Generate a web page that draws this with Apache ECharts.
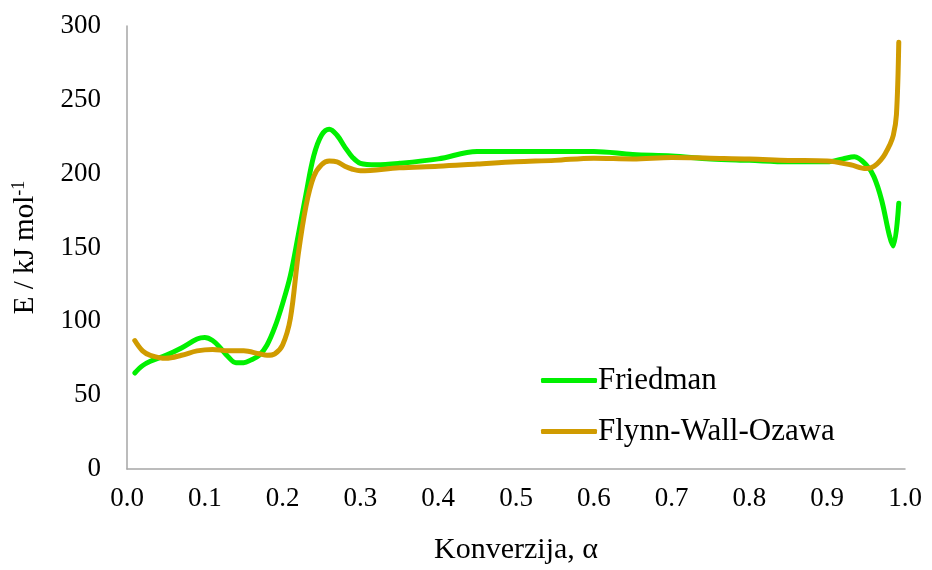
<!DOCTYPE html>
<html>
<head>
<meta charset="utf-8">
<script src="https://cdn.jsdelivr.net/npm/echarts@6/dist/echarts.min.js"></script>
<style>html,body{margin:0;padding:0;background:#fff}#c{width:932px;height:570px}</style>
</head>
<body>
<div id="c"></div>
<script>
const seriesNames = ['Friedman', 'Flynn-Wall-Ozawa'];
const friedmanX = [0.01,0.02,0.03,0.05,0.07,0.09,0.10,0.11,0.12,0.13,0.14,0.15,0.16,0.17,0.18,0.19,0.20,0.21,0.22,0.23,0.24,0.25,0.26,0.27,0.28,0.29,0.30,0.32,0.35,0.40,0.45,0.50,0.55,0.60,0.65,0.70,0.75,0.80,0.85,0.90,0.92,0.935,0.95,0.96,0.97,0.98,0.985,0.992];
const friedmanY = [65,70,73,77,82,88,89,87,82,76,72,72,74,77,84,96,112,131,158,186,212,226,230,226,218,211,207,206,207,210,215,215,215,215,213,212,210,209,208,208,210,211.5,206,198,182,158,151,180];
const fwoX = [0.01,0.02,0.03,0.05,0.07,0.09,0.11,0.13,0.15,0.17,0.18,0.19,0.20,0.21,0.22,0.23,0.24,0.25,0.26,0.27,0.28,0.29,0.30,0.35,0.40,0.45,0.50,0.55,0.60,0.65,0.70,0.75,0.80,0.85,0.90,0.93,0.95,0.96,0.97,0.975,0.98,0.985,0.989,0.992];
const fwoY = [87,80,77,75,77,80,81,80,80,78,77,78,84,102,145,178,198,206,208.5,208,205,203,202,204,205,206.5,208,209,210.5,210,211,210.5,210,209,208.5,206,203.5,205,210,214,219,226,240,289];
const xTickLabels = ['0.0','0.1','0.2','0.3','0.4','0.5','0.6','0.7','0.8','0.9','1.0'];
const yTickLabels = ['0','50','100','150','200','250','300'];

const pairs = (xs, ys) => xs.map((x, i) => [x, ys[i]]);
const font = '"Liberation Serif", "Times New Roman", serif';
const chart = echarts.init(document.getElementById('c'), null, {renderer: 'canvas'});
chart.setOption({
  animation: false,
  backgroundColor: '#fff',
  textStyle: {fontFamily: font, color: '#000'},
  grid: {left: 127, right: 27, top: 26, bottom: 98},
  legend: {
    orient: 'vertical', left: 536, top: 360, itemGap: 20,
    itemWidth: 56, itemHeight: 5, icon: 'roundRect',
    textStyle: {fontFamily: font, fontSize: 31, color: '#000', lineHeight: 31, padding: [0,0,0,-4]},
    data: seriesNames
  },
  xAxis: {
    type: 'value', min: 0, max: 1, interval: 0.1,
    name: 'Konverzija, α', nameLocation: 'middle', nameGap: 66,
    nameTextStyle: {fontFamily: font, fontSize: 30, color: '#000'},
    axisLine: {lineStyle: {color: '#a6a6a6', width: 1.5}},
    axisTick: {show: false}, splitLine: {show: false},
    axisLabel: {margin: 16, fontSize: 27, color: '#000', fontFamily: font,
      formatter: (v) => xTickLabels[Math.round(v * 10)]}
  },
  yAxis: {
    type: 'value', min: 0, max: 300, interval: 50,
    name: '{a|E / kJ mol}{b|-1}', nameLocation: 'middle', nameGap: 86, nameRotate: 90,
    nameTextStyle: {fontFamily: font, fontSize: 29, color: '#000',
      rich: {a: {fontFamily: font, fontSize: 29, color: '#000'},
             b: {fontFamily: font, fontSize: 18, color: '#000', verticalAlign: 'top', padding: [0,0,13,0]}}},
    axisLine: {show: true, lineStyle: {color: '#a6a6a6', width: 1.5}},
    axisTick: {show: false}, splitLine: {show: false},
    axisLabel: {margin: 26, fontSize: 27, color: '#000', fontFamily: font,
      formatter: (v) => yTickLabels[Math.round(v / 50)]}
  },
  series: [
    {name: seriesNames[0], type: 'line', data: pairs(friedmanX, friedmanY), smooth: 0.35,
     showSymbol: false, symbol: 'none', color: '#00f000',
     lineStyle: {width: 5, color: '#00f000', cap: 'round', join: 'round'}, z: 3},
    {name: seriesNames[1], type: 'line', data: pairs(fwoX, fwoY), smooth: 0.35,
     showSymbol: false, symbol: 'none', color: '#d09b00',
     lineStyle: {width: 5, color: '#d09b00', cap: 'round', join: 'round'}, z: 4}
  ]
});
</script>
</body>
</html>
